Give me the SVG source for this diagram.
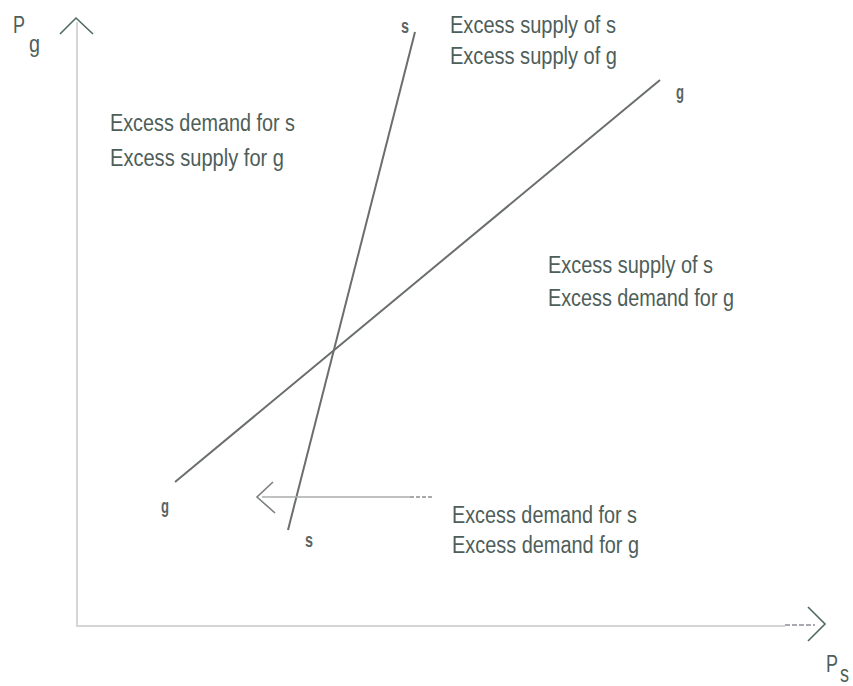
<svg xmlns="http://www.w3.org/2000/svg" width="853" height="686" viewBox="0 0 853 686">
<style>
.t{font-family:"Liberation Sans",Arial,sans-serif;font-size:23px;fill:#4e5e59}
.lb{font-family:"Liberation Sans",Arial,sans-serif;font-size:20px;font-weight:bold;fill:#5a6461}
.ax{stroke:#d4d6d5;stroke-width:2;fill:none}
.ah{stroke:#4e6a60;stroke-width:1.6;fill:none}
.ln{stroke:#6a6e6d;stroke-width:2;fill:none}
</style>
<rect width="853" height="686" fill="#ffffff"/>
<g id="axes">
<line class="ax" x1="77" y1="22" x2="77" y2="627"/>
<line class="ax" x1="76" y1="626" x2="785" y2="626"/>
<line x1="785" y1="625" x2="815" y2="625" stroke="#556" stroke-width="1.2" stroke-dasharray="5,2"/>
<polyline class="ah" points="808,607 825,624 808,641"/>
<polyline class="ah" points="60,34 76,18 93,34"/>
<text class="t" x="13" y="33" font-size="28" textLength="12" lengthAdjust="spacingAndGlyphs">P</text>
<text class="t" x="29" y="52" font-size="24" textLength="11" lengthAdjust="spacingAndGlyphs">g</text>
<text class="t" x="826" y="672" font-size="28" textLength="12" lengthAdjust="spacingAndGlyphs">P</text>
<text class="t" x="840" y="682" font-size="17" textLength="9" lengthAdjust="spacingAndGlyphs">s</text>
</g>
<g id="curve-s">
<line class="ln" x1="415" y1="32" x2="288" y2="530"/>
<text class="lb" x="401" y="33" textLength="8" lengthAdjust="spacingAndGlyphs">s</text>
<text class="lb" x="305" y="547" textLength="8" lengthAdjust="spacingAndGlyphs">s</text>
</g>
<g id="curve-g">
<line class="ln" x1="175" y1="482" x2="660" y2="80"/>
<text class="lb" x="676" y="99" textLength="8" lengthAdjust="spacingAndGlyphs">g</text>
<text class="lb" x="161" y="513" textLength="8" lengthAdjust="spacingAndGlyphs">g</text>
</g>
<g id="connectors">
<line x1="262" y1="497" x2="410" y2="497" stroke="#a8acab" stroke-width="1.6"/>
<line x1="410" y1="497" x2="433" y2="497" stroke="#555" stroke-width="1" stroke-dasharray="4,2"/>
<polyline points="273,482 257,497 275,513" stroke="#7a7e7d" stroke-width="1.6" fill="none"/>
</g>
<g id="region-top">
<text class="t" x="450" y="33" textLength="166" lengthAdjust="spacingAndGlyphs">Excess supply of s</text>
<text class="t" x="450" y="64" textLength="167" lengthAdjust="spacingAndGlyphs">Excess supply of g</text>
</g>
<g id="region-left">
<text class="t" x="110" y="131" textLength="185" lengthAdjust="spacingAndGlyphs">Excess demand for s</text>
<text class="t" x="110" y="166" textLength="174" lengthAdjust="spacingAndGlyphs">Excess supply for g</text>
</g>
<g id="region-right">
<text class="t" x="548" y="273" textLength="165" lengthAdjust="spacingAndGlyphs">Excess supply of s</text>
<text class="t" x="548" y="306" textLength="186" lengthAdjust="spacingAndGlyphs">Excess demand for g</text>
</g>
<g id="region-bottom">
<text class="t" x="452" y="523" textLength="185" lengthAdjust="spacingAndGlyphs">Excess demand for s</text>
<text class="t" x="452" y="553" textLength="187" lengthAdjust="spacingAndGlyphs">Excess demand for g</text>
</g>
</svg>
